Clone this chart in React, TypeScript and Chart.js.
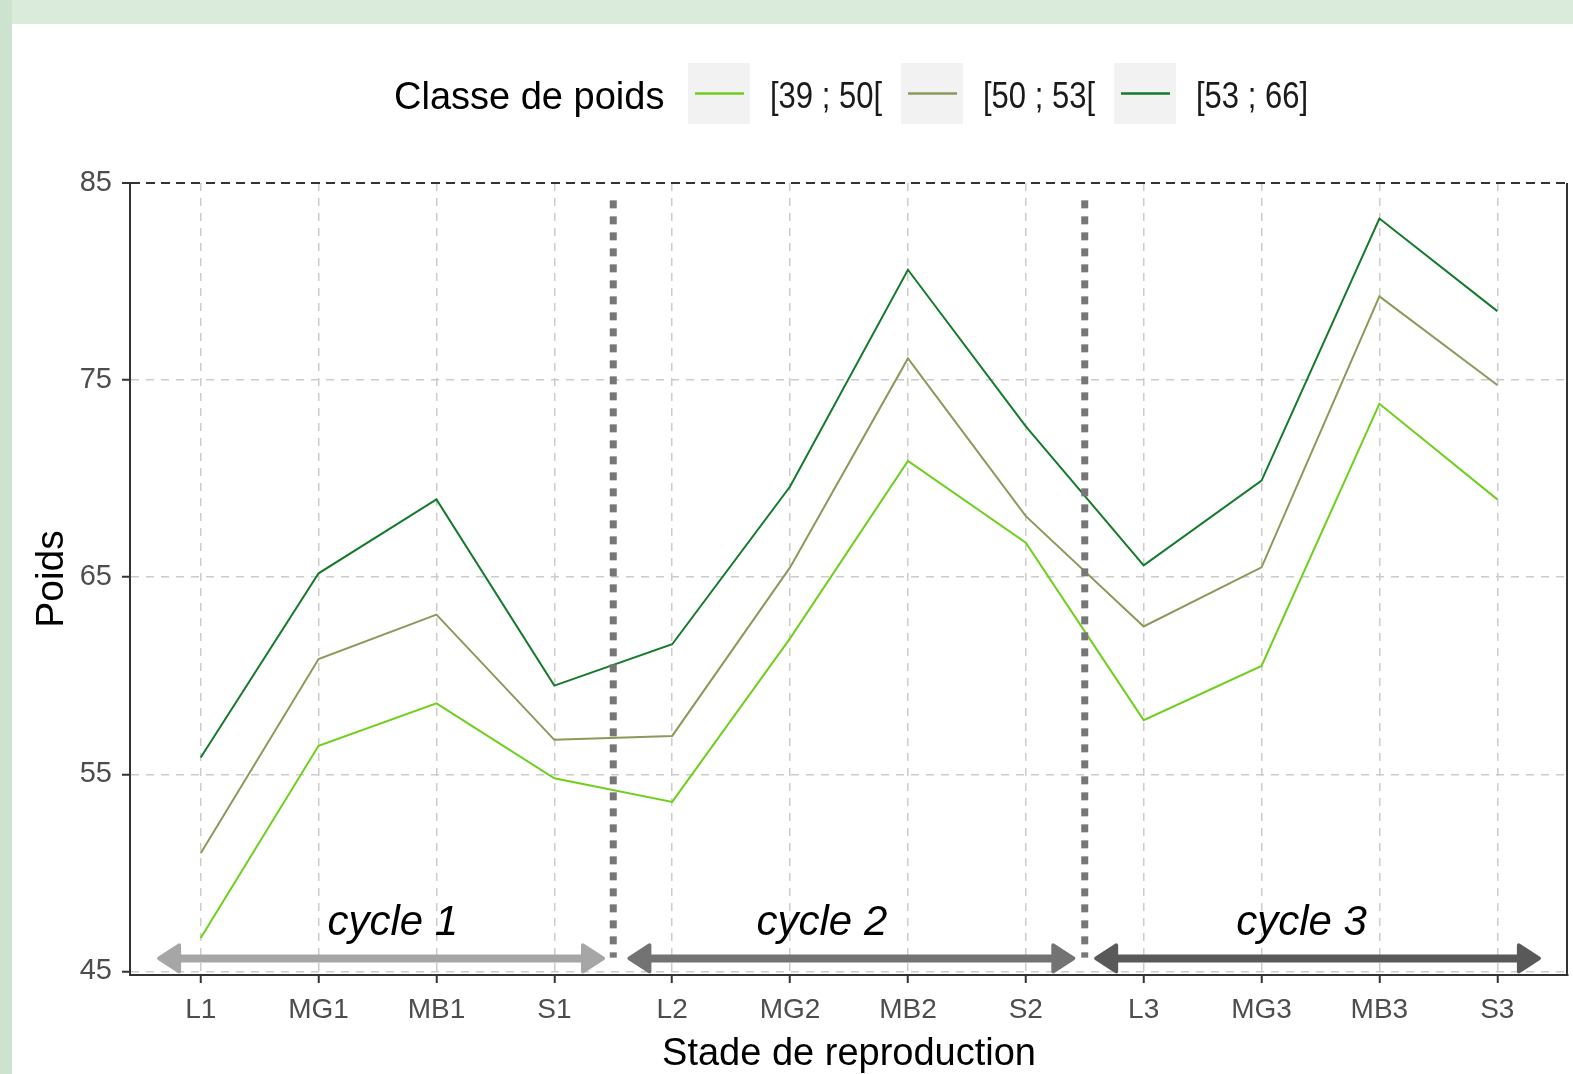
import { useEffect, useRef } from "react";
import { Chart, registerables } from "chart.js";

Chart.register(...registerables);

const FONT = "'Liberation Sans', Arial, sans-serif";

const stages = ["L1", "MG1", "MB1", "S1", "L2", "MG2", "MB2", "S2", "L3", "MG3", "MB3", "S3"];
const seriesLabels = ["[39 ; 50[", "[50 ; 53[", "[53 ; 66]"];
const seriesColors = ["#6fcf1c", "#8a9a5b", "#157a2c"];
const light = [46.7, 56.45, 58.6, 54.8, 53.6, 61.9, 70.9, 66.75, 57.75, 60.5, 73.8, 68.95];
const mid = [51.0, 60.85, 63.1, 56.75, 56.95, 65.5, 76.1, 68.1, 62.5, 65.5, 79.25, 74.75];
const dark = [55.85, 65.2, 68.95, 59.5, 61.6, 69.6, 80.6, 72.65, 65.6, 69.9, 83.2, 78.5];
const yTicks = [45, 55, 65, 75, 85];
const cycleNames = ["cycle 1", "cycle 2", "cycle 3"];
const cycleCenters = [1.63, 5.27, 9.34];
const cycleStarts = [-0.37, 3.62, 7.58];
const cycleEnds = [3.43, 7.42, 11.37];
const cycleColors = ["#a6a6a6", "#737373", "#595959"];
const separators = [3.5, 7.5];

const overlayPlugin = {
  id: "overlay",
  afterDatasetsDraw(chart: any) {
    const { ctx, scales, chartArea } = chart;
    const xs = scales.x;
    const ys = scales.y;
    ctx.save();
    ctx.strokeStyle = "#777777";
    ctx.lineWidth = 7;
    ctx.setLineDash([8, 8]);
    separators.forEach((s) => {
      const px = xs.getPixelForValue(s);
      ctx.beginPath();
      ctx.moveTo(px, ys.getPixelForValue(84.12));
      ctx.lineTo(px, ys.getPixelForValue(45.7));
      ctx.stroke();
    });
    ctx.restore();
    const ay = ys.getPixelForValue(45.66);
    cycleNames.forEach((_, i) => {
      const x1 = xs.getPixelForValue(cycleStarts[i]);
      const x2 = xs.getPixelForValue(cycleEnds[i]);
      const headL = 20;
      const headH = 13;
      ctx.save();
      ctx.strokeStyle = cycleColors[i];
      ctx.fillStyle = cycleColors[i];
      ctx.lineWidth = 8;
      ctx.lineCap = "butt";
      ctx.beginPath();
      ctx.moveTo(x1 + headL, ay);
      ctx.lineTo(x2 - headL, ay);
      ctx.stroke();
      ctx.lineJoin = "round";
      ctx.lineWidth = 4;
      ctx.beginPath();
      ctx.moveTo(x1 + 2, ay);
      ctx.lineTo(x1 + 2 + headL, ay - headH);
      ctx.lineTo(x1 + 2 + headL, ay + headH);
      ctx.closePath();
      ctx.fill();
      ctx.stroke();
      ctx.beginPath();
      ctx.moveTo(x2 - 2, ay);
      ctx.lineTo(x2 - 2 - headL, ay - headH);
      ctx.lineTo(x2 - 2 - headL, ay + headH);
      ctx.closePath();
      ctx.fill();
      ctx.stroke();
      ctx.restore();
      ctx.save();
      ctx.font = `italic 42px ${FONT}`;
      ctx.fillStyle = "#000000";
      ctx.textAlign = "center";
      ctx.textBaseline = "alphabetic";
      ctx.fillText(cycleNames[i], xs.getPixelForValue(cycleCenters[i]), ys.getPixelForValue(46.87));
      ctx.restore();
    });
    ctx.save();
    ctx.strokeStyle = "#333333";
    ctx.lineWidth = 2;
    ctx.beginPath();
    ctx.moveTo(chartArea.right - 1, chartArea.top);
    ctx.lineTo(chartArea.right - 1, chartArea.bottom);
    ctx.stroke();
    ctx.restore();
  },
  afterDraw(chart: any) {
    const { ctx } = chart;
    ctx.save();
    ctx.font = `38px ${FONT}`;
    ctx.fillStyle = "#000000";
    ctx.textAlign = "left";
    ctx.textBaseline = "middle";
    ctx.fillText("Classe de poids", 382, 75);
    const boxX = [676, 889, 1102];
    seriesLabels.forEach((lab, i) => {
      ctx.fillStyle = "#f2f2f2";
      ctx.fillRect(boxX[i], 39, 62, 61);
      ctx.strokeStyle = seriesColors[i];
      ctx.lineWidth = 2.5;
      ctx.beginPath();
      ctx.moveTo(boxX[i] + 7, 69.5);
      ctx.lineTo(boxX[i] + 56, 69.5);
      ctx.stroke();
      ctx.fillStyle = "#1a1a1a";
      ctx.font = `37px ${FONT}`;
      ctx.fillText(lab, boxX[i] + 82, 74, 112);
    });
    ctx.restore();
  },
};

export default function App() {
  const ref = useRef<HTMLCanvasElement | null>(null);
  useEffect(() => {
    if (!ref.current) return;
    const mk = (vals: number[]) => vals.map((v, i) => ({ x: i, y: v }));
    const chart = new Chart(ref.current, {
      type: "line",
      data: {
        datasets: [
          { label: seriesLabels[0], data: mk(light), borderColor: seriesColors[0], borderWidth: 2, pointRadius: 0, tension: 0, fill: false },
          { label: seriesLabels[1], data: mk(mid), borderColor: seriesColors[1], borderWidth: 2, pointRadius: 0, tension: 0, fill: false },
          { label: seriesLabels[2], data: mk(dark), borderColor: seriesColors[2], borderWidth: 2, pointRadius: 0, tension: 0, fill: false },
        ],
      },
      options: {
        animation: false,
        responsive: false,
        maintainAspectRatio: false,
        devicePixelRatio: 1,
        layout: { padding: { top: 159, right: 5, left: 0, bottom: 0 } },
        plugins: { legend: { display: false }, tooltip: { enabled: false } },
        scales: {
          x: {
            type: "linear",
            min: -0.6,
            max: 11.6,
            afterBuildTicks: (s: any) => {
              s.ticks = stages.map((_, i) => ({ value: i }));
            },
            afterFit: (s: any) => {
              s.height = 99;
            },
            ticks: {
              callback: (v: any) => stages[Math.round(Number(v))],
              color: "#4d4d4d",
              font: { family: FONT, size: 28 },
              padding: 10,
              autoSkip: false,
              maxRotation: 0,
            },
            grid: { color: "#cccccc", lineWidth: 1.5, tickColor: "#333333", tickLength: 8, tickWidth: 2 },
            border: { display: true, color: "#333333", width: 2, dash: [8, 7] },
            title: {
              display: true,
              text: "Stade de reproduction",
              color: "#000000",
              font: { family: FONT, size: 38 },
              padding: { top: 0, bottom: -3 },
            },
          },
          y: {
            min: 44.82,
            max: 85,
            afterBuildTicks: (s: any) => {
              s.ticks = yTicks.map((v) => ({ value: v }));
            },
            afterFit: (s: any) => {
              s.width = 118;
            },
            ticks: { color: "#4d4d4d", font: { family: FONT, size: 29 }, padding: 10 },
            grid: {
              color: (c: any) => (c.tick && c.tick.value === 85 ? "#333333" : "#cccccc"),
              lineWidth: (c: any) => (c.tick && c.tick.value === 85 ? 2 : 1.5),
              tickColor: "#333333",
              tickLength: 8,
              tickWidth: 2,
            },
            border: {
              display: true,
              color: "#333333",
              width: 2,
              dash: (c: any) => (c.tick && c.tick.value === 85 ? [9, 6] : [8, 7]),
            },
            title: {
              display: true,
              text: "Poids",
              color: "#000000",
              font: { family: FONT, size: 39 },
              padding: { top: 17, bottom: 0 },
            },
          },
        },
      },
      plugins: [overlayPlugin],
    } as any);
    return () => chart.destroy();
  }, []);

  return (
    <div style={{ position: "fixed", inset: 0, background: "#daeadb", overflow: "hidden" }}>
      <div style={{ position: "absolute", left: 0, top: 0, width: 12, bottom: 0, background: "#cde3cf" }} />
      <div style={{ position: "absolute", left: 12, top: 24, right: 0, bottom: 0, background: "#ffffff" }}>
        <canvas ref={ref} width={1561} height={1050} style={{ display: "block", width: 1561, height: 1050 }} />
      </div>
    </div>
  );
}
